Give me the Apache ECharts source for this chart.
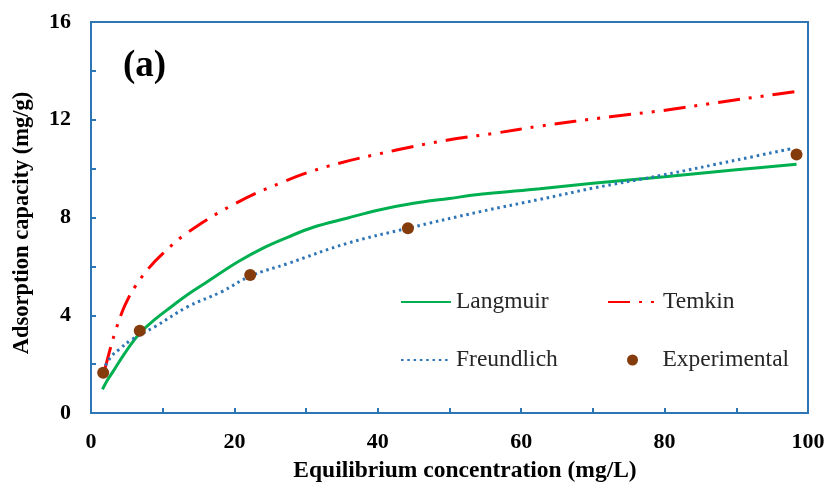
<!DOCTYPE html>
<html>
<head>
<meta charset="utf-8">
<script src="https://cdn.jsdelivr.net/npm/echarts@6/dist/echarts.min.js"></script>
<style>
  html, body { margin: 0; padding: 0; background: #fff; }
  #chart { width: 830px; height: 491px; }
</style>
</head>
<body>
<div id="chart"></div>
<script>
// Isotherm model curves and experimental data, [Ce (mg/L), qe (mg/g)]
const langmuir = [
  [1.6, 0.97], [2.2, 1.30], [3.0, 1.66], [4.7, 2.44], [6.8, 3.26], [9.0, 3.85],
  [11.2, 4.35], [13.5, 4.85], [15.9, 5.31], [20.5, 6.19], [24.0, 6.75], [27.5, 7.20],
  [31.0, 7.60], [35.7, 7.97], [40.0, 8.30], [45.0, 8.58], [50.0, 8.78], [54.3, 8.95],
  [62.6, 9.18], [70.0, 9.40], [80.0, 9.67], [90.0, 9.95], [98.4, 10.18]
];
const freundlich = [
  [1.6, 1.72], [2.8, 2.30], [4.0, 2.62], [5.6, 2.99], [8.9, 3.53], [13.5, 4.35],
  [18.2, 4.96], [22.2, 5.60], [27.5, 6.12], [35.7, 6.94], [44.2, 7.56], [54.3, 8.24],
  [62.6, 8.74], [70.0, 9.20], [79.8, 9.74], [90.0, 10.35], [97.9, 10.83]
];
const temkin = [
  [1.95, 1.82], [2.8, 2.75], [3.3, 3.25], [4.35, 4.14], [5.25, 4.72], [6.1, 5.15],
  [7.95, 5.89], [10.0, 6.52], [13.4, 7.37], [19.8, 8.52], [26.5, 9.42], [33.1, 10.10],
  [42.6, 10.76], [49.6, 11.16], [56.6, 11.46], [62.6, 11.74], [72.4, 12.12],
  [79.8, 12.38], [87.3, 12.70], [94.7, 13.01], [98.2, 13.15]
];
const experimental = [
  [1.7, 1.65], [6.8, 3.37], [22.2, 5.65], [44.2, 7.56], [98.4, 10.58]
];

const xTicks = { min: 0, max: 100, step: 20 };
const yTicks = { min: 0, max: 16, step: 4 };

const axisBlue = '#2E75B6';
const serif = '"Liberation Serif", "Times New Roman", serif';

const chart = echarts.init(document.getElementById('chart'), null, { renderer: 'canvas' });

// one legend block per entry so each sits in its own cell of the 2x2 key
function legendAt(name, left, top, iconH, hideSymbol) {
  const lg = {
    data: [name], left: left, top: top, padding: 0,
    itemWidth: 50, itemHeight: iconH, itemGap: 0,
    textStyle: { fontFamily: serif, fontSize: 23.5, color: '#262626', lineHeight: 24 }
  };
  if (hideSymbol) lg.itemStyle = { opacity: 0 };
  return lg;
}

chart.setOption({
  animation: false,
  backgroundColor: '#fff',
  grid: {
    left: 91, right: 22, top: 22, bottom: 78,
    show: true, borderColor: axisBlue, borderWidth: 2, backgroundColor: 'transparent'
  },
  xAxis: {
    type: 'value', min: xTicks.min, max: xTicks.max, interval: xTicks.step,
    axisLine: { lineStyle: { color: axisBlue, width: 2 } },
    axisTick: { inside: true, length: 5, lineStyle: { color: axisBlue, width: 2 } },
    minorTick: { show: true, splitNumber: 2, length: 5, lineStyle: { color: axisBlue, width: 2 } },
    splitLine: { show: false },
    axisLabel: { fontFamily: serif, fontWeight: 'bold', fontSize: 22, color: '#000', margin: 18 }
  },
  yAxis: {
    type: 'value', min: yTicks.min, max: yTicks.max, interval: yTicks.step,
    axisLine: { lineStyle: { color: axisBlue, width: 2 } },
    axisTick: { inside: true, length: 5, lineStyle: { color: axisBlue, width: 2 } },
    minorTick: { show: true, splitNumber: 2, length: 5, lineStyle: { color: axisBlue, width: 2 } },
    splitLine: { show: false },
    axisLabel: { fontFamily: serif, fontWeight: 'bold', fontSize: 22, color: '#000', margin: 20 }
  },
  legend: [
    legendAt('Langmuir', 400, 290, 14, true),
    legendAt('Temkin', 607, 290, 14, true),
    legendAt('Freundlich', 400, 348, 14, true),
    legendAt('Experimental', 627, 348, 11, false)
  ],
  graphic: [
    {
      type: 'text', left: 123, top: 48,
      style: { text: '(a)', fontFamily: serif, fontWeight: 'bold', fontSize: 37, fill: '#000' }
    },
    {
      type: 'text', x: 465, y: 471,
      style: {
        text: 'Equilibrium concentration (mg/L)', fontFamily: serif, fontWeight: 'bold',
        fontSize: 23.5, fill: '#000', align: 'center', verticalAlign: 'middle'
      }
    },
    {
      type: 'text', x: 22, y: 223, rotation: Math.PI / 2,
      style: {
        text: 'Adsorption capacity (mg/g)', fontFamily: serif, fontWeight: 'bold',
        fontSize: 22.5, fill: '#000', align: 'center', verticalAlign: 'middle'
      }
    }
  ],
  series: [
    {
      name: 'Langmuir', type: 'line', data: langmuir, smooth: 0.4,
      symbol: 'none', showSymbol: false,
      lineStyle: { color: '#00B050', width: 3 }, itemStyle: { color: '#00B050' }, z: 2
    },
    {
      name: 'Temkin', type: 'line', data: temkin, smooth: 0.4,
      symbol: 'none', showSymbol: false,
      lineStyle: { color: '#FF0000', width: 3, type: [22, 9, 3, 9, 3, 9], cap: 'butt' },
      itemStyle: { color: '#FF0000' }, z: 2
    },
    {
      name: 'Freundlich', type: 'line', data: freundlich, smooth: 0.4,
      symbol: 'none', showSymbol: false,
      lineStyle: { color: '#2E75B6', width: 3, type: [2.5, 3.8], cap: 'butt' },
      itemStyle: { color: '#2E75B6' }, z: 2
    },
    {
      name: 'Experimental', type: 'scatter', data: experimental,
      symbol: 'circle', symbolSize: 12,
      itemStyle: { color: '#843C0C', opacity: 1 }, z: 3
    }
  ]
});
</script>
</body>
</html>
